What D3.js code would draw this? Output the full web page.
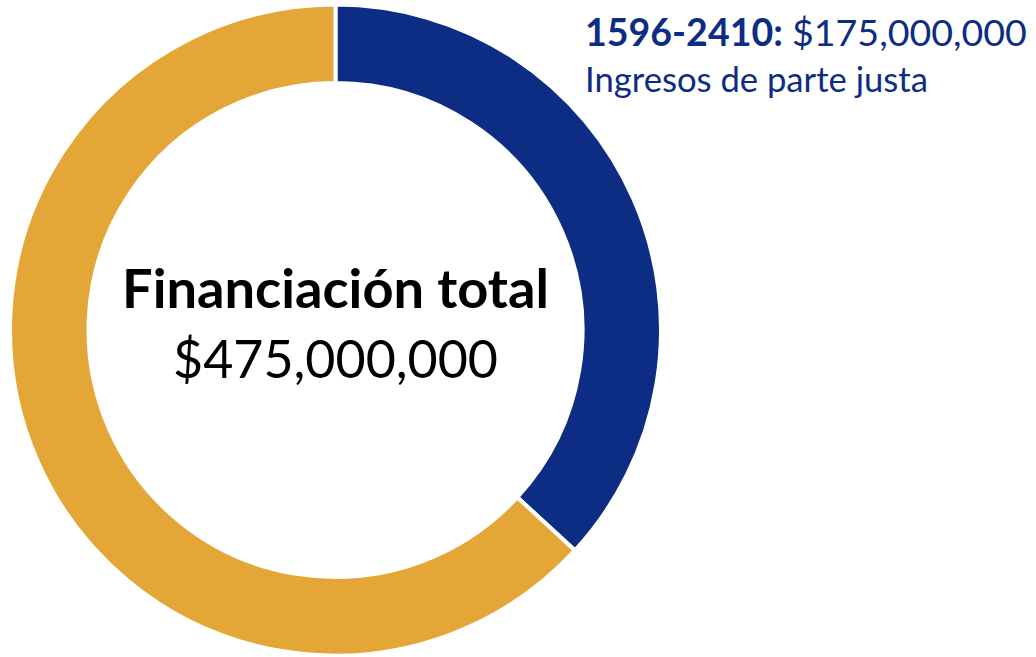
<!DOCTYPE html>
<html>
<head>
<meta charset="utf-8">
<script src="https://cdn.jsdelivr.net/npm/d3@7"></script>
<style>
  body { margin: 0; background: #fff; }
  svg { display: block; font-family: Lato, "Open Sans", sans-serif; }
</style>
</head>
<body>
<svg id="chart" width="1036" height="657"></svg>
<script>
const categories = ["1596-2410", "Otros fondos"];
const values = [175000000, 300000000];
const colors = ["#0d2c84", "#e3a637"];
const centerTitle = "Financiación total";
const labelNote = "Ingresos de parte justa";

const width = 1036;
const height = 657;
const cx = 335.5;
const cy = 330;
const outerR = 325.5;
const innerR = 247;

const svg = d3.select("#chart");
const fmt = (v) => "$" + d3.format(",")(v);

const data = categories.map((c, i) => ({ name: c, value: values[i], color: colors[i] }));
const total = d3.sum(values);

let pie = d3.pie().value((d) => d.value).sort(null);
let arc = d3.arc().innerRadius(innerR).outerRadius(outerR);

const g = svg.append("g").attr("transform", `translate(${cx}, ${cy})`);

g.selectAll("path")
  .data(pie(data))
  .join("path")
  .attr("d", arc)
  .attr("fill", (d) => d.data.color)
  .attr("stroke", "#fff")
  .attr("stroke-width", 4)
  .attr("stroke-linejoin", "miter");

// shrink/grow a text node to a target width
function fitWidth(sel, target) {
  let fs = parseFloat(sel.attr("font-size"));
  let w = sel.node().getComputedTextLength();
  sel.attr("font-size", (fs * target) / w);
}

let title = g.append("text")
  .attr("text-anchor", "middle")
  .attr("y", -22)
  .attr("font-size", 56)
  .attr("font-weight", 700)
  .attr("fill", "#000")
  .text(centerTitle);
fitWidth(title, 427);

let totalText = g.append("text")
  .attr("text-anchor", "middle")
  .attr("y", 48)
  .attr("font-size", 56)
  .attr("fill", "#000")
  .text(fmt(total));
fitWidth(totalText, 325);

// label for the first slice
let lab = svg.append("text")
  .attr("x", 585)
  .attr("y", 46)
  .attr("font-size", 36)
  .attr("fill", colors[0]);
lab.append("tspan").attr("font-weight", 700).text(categories[0] + ": ");
lab.append("tspan").text(fmt(values[0]));
fitWidth(lab, 442);

let note = svg.append("text")
  .attr("x", 585)
  .attr("y", 92)
  .attr("font-size", 32)
  .attr("fill", colors[0])
  .text(labelNote);
fitWidth(note, 343);
</script>
</body>
</html>
